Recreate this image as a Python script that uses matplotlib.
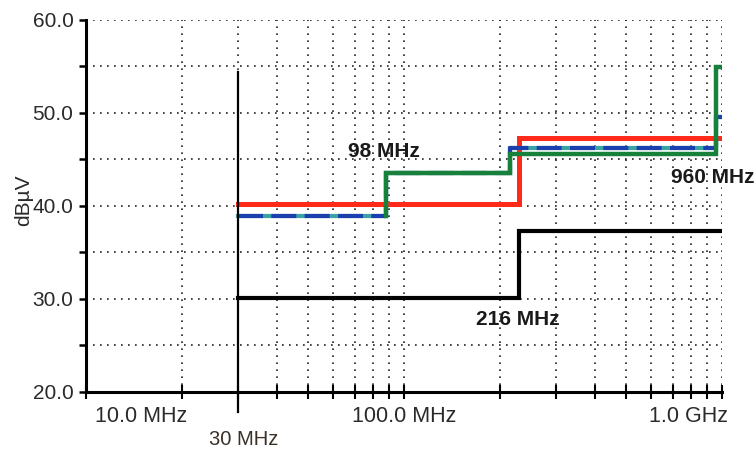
import matplotlib
matplotlib.use('Agg')
import matplotlib.pyplot as plt
from matplotlib.ticker import FixedLocator, NullFormatter
from matplotlib.transforms import ScaledTranslation

# ---- data (frequency in MHz, level in dBµV) ----
red_freq = [30, 230, 1000]
red_db = [40.2, 47.3]

black_freq = [30, 230, 1000]
black_db = [30.1, 37.3]

blue_freq = [30, 88, 216, 960, 1000]
blue_db = [38.9, 43.5, 46.2, 49.6]

green_freq = [88, 216, 960, 1000]
green_db = [43.5, 45.6, 54.9]
green_start_db = 38.9

marker_freq = 30
marker_db = [17.8, 54.4]

ann_texts = ["98 MHz", "216 MHz", "960 MHz"]
ann_freq = [66.6, 168.6, 690]
ann_db = [45.3, 27.2, 42.5]

label30_text = "30 MHz"
label30_freq = 24.4
label30_db = 14.3

xtick_vals = [10, 100, 1000]
xtick_labels = ["10.0 MHz", "100.0 MHz", "1.0 GHz"]
xminor_vals = [20, 30, 40, 50, 60, 70, 80, 90, 200, 300, 400, 500, 600, 700, 800, 900]
ytick_vals = [20, 30, 40, 50, 60]
ytick_labels = ["20.0", "30.0", "40.0", "50.0", "60.0"]
yminor_vals = [25, 35, 45, 55]


def step_xy(edges, levels):
    xs, ys = [], []
    for i, lv in enumerate(levels):
        xs += [edges[i], edges[i + 1]]
        ys += [lv, lv]
    return xs, ys


regular = ['Liberation Sans', 'DejaVu Sans']

fig = plt.figure(figsize=(7.56, 4.49), dpi=100)
ax = fig.add_axes([86 / 756, 1 - 391.7 / 449, (722 - 86) / 756, (391.7 - 20) / 449])
ax.set_xscale('log')
ax.set_xlim(10, 1000)
ax.set_ylim(20, 60)

ax.xaxis.set_major_locator(FixedLocator(xtick_vals))
ax.xaxis.set_minor_locator(FixedLocator(xminor_vals))
ax.xaxis.set_minor_formatter(NullFormatter())
ax.set_xticklabels(xtick_labels, fontfamily=regular, fontsize=15.5)
ax.yaxis.set_major_locator(FixedLocator(ytick_vals))
ax.yaxis.set_minor_locator(FixedLocator(yminor_vals))
ax.set_yticklabels(ytick_labels, fontfamily=regular, fontsize=15)

gkw = dict(color='#222222', linewidth=1.2, linestyle=(0, (1, 3.2)))
ax.grid(True, which='both', axis='both', **gkw)
ax.set_axisbelow(True)

for s in ['top', 'right']:
    ax.spines[s].set_visible(False)
for s in ['left', 'bottom']:
    ax.spines[s].set_linewidth(2.2)
    ax.spines[s].set_color('black')

ax.tick_params(axis='x', which='both', direction='inout', length=10, width=1.5, pad=5, colors='black')
ax.tick_params(axis='y', which='both', direction='out', length=5, width=1.8, pad=4)
ax.tick_params(axis='x', labelcolor='#2a2a2a')
ax.tick_params(axis='y', labelcolor='#2a2a2a')

lbls = ax.get_xticklabels()
lbls[0].set_ha('left')
lbls[0].set_transform(lbls[0].get_transform() + ScaledTranslation(9 / 100, 0, fig.dpi_scale_trans))
lbls[-1].set_ha('right')
lbls[-1].set_transform(lbls[-1].get_transform() + ScaledTranslation(6 / 100, 0, fig.dpi_scale_trans))

ax.set_ylabel('dBµV', fontfamily=regular, fontsize=15, color='#2a2a2a')
ax.yaxis.set_label_coords((33 - 86) / 636, 0.516)

# limit lines
x, y = step_xy(black_freq, black_db)
ax.plot(x, y, color='black', lw=3.0, zorder=3, solid_joinstyle='miter')
x, y = step_xy(red_freq, red_db)
ax.plot(x, y, color='#ff2a1a', lw=3.6, zorder=4, solid_joinstyle='miter')
x, y = step_xy(blue_freq, blue_db)
ax.plot(x, y, color='#3aa3a3', lw=3.0, zorder=5, solid_joinstyle='miter')
ax.plot(x, y, color='#1c3fae', lw=3.0, zorder=5.1, linestyle=(0, (6, 2)), solid_joinstyle='miter')
x, y = step_xy(green_freq, green_db)
x = [green_freq[0]] + x
y = [green_start_db] + y
ax.plot(x, y, color='#17803a', lw=3.2, zorder=6, solid_joinstyle='miter')

# 30 MHz marker line
ax.plot([marker_freq, marker_freq], marker_db, color='black', lw=1.6, zorder=7, clip_on=False)

for t, f, d in zip(ann_texts, ann_freq, ann_db):
    ax.text(f, d, t, fontfamily=regular, fontweight='bold', fontsize=15,
            color='#1a1a1a', ha='left', va='baseline', clip_on=False, zorder=8)

ax.text(label30_freq, label30_db, label30_text, fontfamily=regular, fontsize=14.5,
        color='#3a3228', ha='left', va='baseline', clip_on=False)

fig.savefig('out.png', dpi=100)
